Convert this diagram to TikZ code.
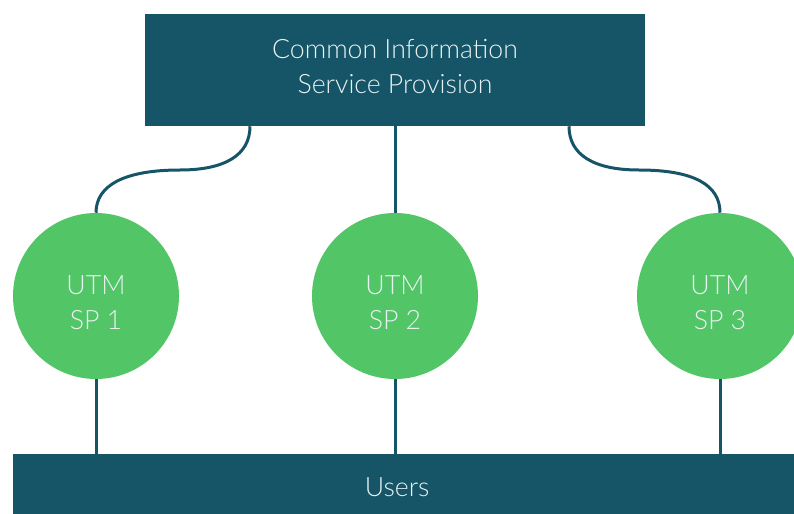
\documentclass[tikz,border=0pt]{standalone}
\usepackage{fontspec}
\setmainfont{Lato}[UprightFont={* Light}]
\usetikzlibrary{positioning}

\definecolor{petrol}{RGB}{21,85,103}
\definecolor{utmgreen}{RGB}{82,197,103}
\definecolor{paletext}{RGB}{232,242,242}

\begin{document}
\begin{tikzpicture}[
    x=0.75pt, y=-0.75pt,
    bar/.style={fill=petrol, text=paletext, inner sep=0pt, align=center, font=\fontsize{20}{26.25}\selectfont},
    sp/.style={circle, fill=utmgreen, text=paletext, minimum size=124.5pt, inner sep=0pt, align=center, text height=51pt, font=\fontsize{20}{26.25}\selectfont},
    link/.style={draw=petrol, line width=2.25pt},
]
\useasboundingbox (0,0) rectangle (794,514);

% Nodes
\node[bar, minimum width=375pt, minimum height=84pt, text depth=6pt] (cisp) at (395,70) {Common Information\\Service Provision};
\node[sp] (sp1) at (96,296) {UTM\\SP 1};
\node[sp] (sp2) at (395,296) {UTM\\SP 2};
\node[sp] (sp3) at (720,296) {UTM\\SP 3};
\node[bar, minimum width=590.25pt, minimum height=45pt, text height=19pt] (users) at (406.5,484) {\hspace*{-14pt}Users};

% Connections
\draw[link] (cisp.south -| 250,0) .. controls (250,155) and (225,170) .. (180,170)
    .. controls (125,170) and (96,185) .. (sp1.north);
\draw[link] (cisp.south) -- (sp2.north);
\draw[link] (cisp.south -| 569,0) .. controls (569,155) and (594,170) .. (639,170)
    .. controls (694,170) and (720,185) .. (sp3.north);

\draw[link] (sp1.south) -- (users.north -| sp1.south);
\draw[link] (sp2.south) -- (users.north -| sp2.south);
\draw[link] (sp3.south) -- (users.north -| sp3.south);

\end{tikzpicture}
\end{document}
